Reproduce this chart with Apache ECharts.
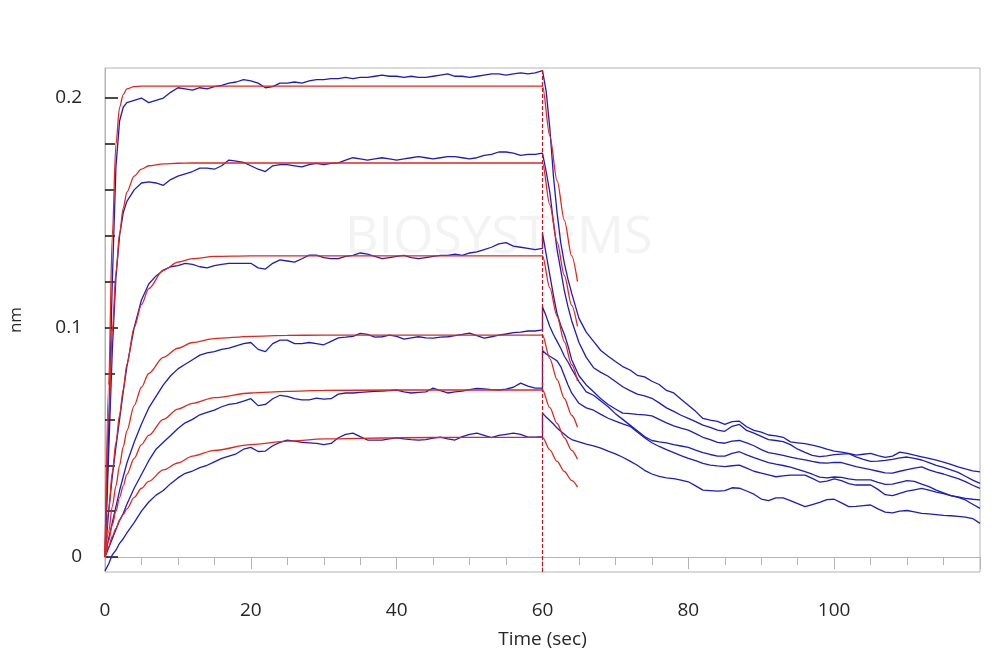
<!DOCTYPE html>
<html><head><meta charset="utf-8">
<script src="https://cdn.jsdelivr.net/npm/echarts@6/dist/echarts.min.js"></script>
<style>html,body{margin:0;padding:0;background:#fff}#c{width:1000px;height:669px}</style>
</head><body><div id="c"></div>
<script>
// ---------- data ----------
const xTickLabels = [0, 20, 40, 60, 80, 100];
const yLabelValues = [0, 0.1, 0.2];
const yMinorTickValues = [0.02, 0.04, 0.06, 0.08, 0.12, 0.14, 0.16, 0.18];
const stepTimes = [60];

// measured (blue) association phase
const assocTime = [0,0.5,1,1.5,2,2.5,3,4,5,6,7,8,9,10,11,12,13,14,15,16,17,18,19,20,21,22,23,24,25,26,27,28,29,30,31,32,33,34,35,36,37,38,39,40,41,42,43,44,45,46,47,48,49,50,51,52,53,54,55,56,57,58,59,60];
const blueAssoc1 = [0.000,0.055,0.120,0.170,0.190,0.196,0.198,0.199,0.200,0.198,0.199,0.200,0.2025,0.2045,0.204,0.2035,0.2045,0.204,0.205,0.2055,0.2065,0.207,0.208,0.2075,0.2065,0.2045,0.205,0.2065,0.2065,0.207,0.2065,0.2075,0.208,0.208,0.2085,0.2085,0.209,0.2085,0.209,0.209,0.2095,0.210,0.2095,0.2095,0.209,0.2095,0.209,0.209,0.2095,0.210,0.2105,0.2095,0.2095,0.209,0.2095,0.210,0.2105,0.2105,0.210,0.2105,0.211,0.2105,0.211,0.212];
const blueAssoc2 = [0.000,0.045,0.090,0.122,0.140,0.150,0.155,0.160,0.163,0.1635,0.163,0.162,0.1645,0.166,0.167,0.168,0.1695,0.1695,0.169,0.1705,0.173,0.1725,0.172,0.1705,0.169,0.168,0.1705,0.171,0.171,0.1705,0.170,0.171,0.1715,0.171,0.1715,0.1718,0.173,0.174,0.1735,0.173,0.1735,0.174,0.1735,0.173,0.1735,0.174,0.1745,0.174,0.1735,0.174,0.1745,0.1745,0.174,0.1735,0.174,0.175,0.1755,0.1765,0.1765,0.176,0.175,0.1755,0.1755,0.176];
const blueAssoc3 = [0.000,0.020,0.035,0.048,0.060,0.072,0.083,0.100,0.112,0.119,0.1225,0.125,0.1265,0.127,0.128,0.1275,0.1265,0.126,0.127,0.1275,0.128,0.128,0.128,0.128,0.126,0.1255,0.128,0.1295,0.129,0.1285,0.130,0.1316,0.1316,0.1305,0.130,0.130,0.131,0.1315,0.1325,0.132,0.131,0.130,0.1305,0.131,0.1315,0.1305,0.130,0.1305,0.131,0.1315,0.1315,0.132,0.1315,0.1325,0.133,0.134,0.135,0.1365,0.137,0.1355,0.135,0.1345,0.134,0.1345];
const blueAssoc4 = [0.000,0.008,0.015,0.022,0.029,0.035,0.041,0.050,0.058,0.065,0.070,0.075,0.079,0.082,0.084,0.086,0.088,0.089,0.0895,0.0905,0.091,0.092,0.093,0.0935,0.0905,0.0895,0.093,0.0945,0.0945,0.093,0.093,0.0935,0.093,0.0925,0.094,0.0955,0.0958,0.0962,0.0975,0.097,0.0958,0.096,0.0967,0.0962,0.095,0.0955,0.096,0.0955,0.0954,0.0958,0.096,0.0965,0.097,0.0976,0.0965,0.0954,0.096,0.0967,0.0972,0.0978,0.098,0.0985,0.0985,0.099];
const blueAssoc5 = [0.000,0.004,0.008,0.012,0.016,0.019,0.023,0.030,0.036,0.042,0.047,0.050,0.053,0.056,0.0585,0.060,0.062,0.063,0.064,0.0655,0.0665,0.067,0.068,0.069,0.066,0.0665,0.069,0.0705,0.070,0.069,0.0685,0.0685,0.0693,0.0688,0.069,0.071,0.0715,0.0715,0.0718,0.072,0.0722,0.0723,0.0725,0.0728,0.072,0.0715,0.0718,0.072,0.0736,0.0725,0.0715,0.072,0.0723,0.073,0.0735,0.0733,0.073,0.0728,0.0732,0.074,0.0758,0.0745,0.0736,0.0736];
const blueAssoc6 = [-0.006,-0.003,0.001,0.003,0.006,0.008,0.0105,0.015,0.020,0.024,0.027,0.029,0.032,0.0345,0.0365,0.0375,0.039,0.040,0.0415,0.043,0.044,0.045,0.047,0.0478,0.046,0.0462,0.0485,0.050,0.051,0.0505,0.050,0.0498,0.0495,0.049,0.0495,0.052,0.0535,0.054,0.0525,0.051,0.051,0.051,0.0515,0.052,0.0515,0.0512,0.051,0.0512,0.0518,0.0523,0.0515,0.051,0.0525,0.0535,0.054,0.053,0.052,0.053,0.0535,0.054,0.0535,0.0523,0.0523,0.0525];

// measured (blue) dissociation phase
const dissocTime = [60,60.5,61,61.5,62,62.5,63,63.5,64,65,66,67,68,69,70,71,72,73,74,75,76,77,78,79,80,81,82,83,84,85,86,87,88,89,90,91,92,93,94,95,96,97,98,99,100,101,102,103,104,105,106,107,108,109,110,111,112,113,114,115,116,117,118,119,120];
const blueDissoc1 = [0.212,0.203,0.187,0.166,0.150,0.137,0.128,0.121,0.115,0.104,0.098,0.094,0.090,0.0875,0.0852,0.083,0.0815,0.0792,0.0785,0.0766,0.0752,0.0726,0.0715,0.0688,0.0662,0.0635,0.0604,0.0597,0.0591,0.0578,0.0590,0.0592,0.0568,0.0552,0.0544,0.0532,0.0528,0.0522,0.0502,0.0498,0.0494,0.0488,0.0480,0.0470,0.0462,0.0457,0.0452,0.0444,0.0448,0.0452,0.0442,0.0434,0.0440,0.0457,0.0452,0.0444,0.0437,0.0430,0.0422,0.0414,0.0404,0.0393,0.0384,0.0376,0.0371];
const blueDissoc2 = [0.176,0.168,0.159,0.146,0.134,0.125,0.116,0.109,0.103,0.0935,0.087,0.0825,0.0805,0.0788,0.0765,0.0742,0.0725,0.071,0.0702,0.0692,0.0672,0.065,0.0635,0.0618,0.0604,0.0590,0.0575,0.0565,0.0553,0.0548,0.0570,0.0578,0.0552,0.0540,0.0526,0.0512,0.0508,0.0503,0.0490,0.0470,0.0456,0.0443,0.0438,0.0441,0.0446,0.0449,0.0451,0.0437,0.0426,0.0417,0.0418,0.0421,0.0426,0.0432,0.0436,0.0430,0.0423,0.0412,0.0400,0.0391,0.0380,0.0369,0.0352,0.0335,0.0321];
const blueDissoc3 = [0.141,0.132,0.123,0.114,0.106,0.101,0.097,0.092,0.086,0.079,0.075,0.072,0.069,0.0665,0.0645,0.0627,0.0625,0.0622,0.062,0.0615,0.060,0.0585,0.0572,0.0562,0.0553,0.0538,0.0522,0.0512,0.0500,0.0496,0.0505,0.0508,0.0498,0.0485,0.0468,0.0455,0.0450,0.0443,0.0436,0.0429,0.0424,0.0417,0.0411,0.0409,0.0413,0.0412,0.0403,0.0394,0.0388,0.0381,0.0374,0.0367,0.0366,0.0374,0.0381,0.0388,0.0393,0.0380,0.0370,0.0362,0.0352,0.0342,0.0329,0.0313,0.0299];
const blueDissoc4 = [0.109,0.105,0.1005,0.097,0.094,0.091,0.0875,0.085,0.082,0.0765,0.072,0.0705,0.068,0.0655,0.0625,0.060,0.0575,0.055,0.0525,0.0508,0.0502,0.0498,0.049,0.0484,0.0478,0.0466,0.0455,0.0447,0.0440,0.0440,0.0452,0.0459,0.0445,0.0433,0.0422,0.0412,0.0405,0.0399,0.0392,0.0382,0.0372,0.0361,0.0348,0.0345,0.0349,0.0347,0.0341,0.0336,0.0336,0.0336,0.0326,0.0317,0.0318,0.0326,0.0333,0.0330,0.0318,0.0307,0.0292,0.0280,0.0268,0.0262,0.0256,0.0252,0.0249];
const blueDissoc5 = [0.090,0.0885,0.0875,0.0865,0.0855,0.083,0.079,0.075,0.0715,0.067,0.065,0.064,0.0622,0.0605,0.0592,0.058,0.057,0.0545,0.052,0.0498,0.0482,0.0468,0.0455,0.0442,0.0430,0.0420,0.0408,0.0401,0.0397,0.0394,0.0398,0.0401,0.0388,0.0374,0.0366,0.0358,0.0350,0.0354,0.0357,0.0357,0.0357,0.0343,0.0327,0.0331,0.0341,0.0333,0.0320,0.0314,0.0314,0.0314,0.0295,0.0272,0.0268,0.0278,0.0287,0.0293,0.0299,0.0292,0.0283,0.0276,0.0268,0.0260,0.0249,0.0230,0.0212];
const blueDissoc6 = [0.0627,0.061,0.0595,0.058,0.0562,0.0548,0.0535,0.0522,0.0512,0.0502,0.0492,0.0485,0.0475,0.0462,0.045,0.0435,0.0418,0.040,0.0378,0.0362,0.0352,0.0345,0.0342,0.0335,0.0328,0.0310,0.0292,0.0290,0.0287,0.0290,0.0302,0.0300,0.0288,0.0274,0.0253,0.0246,0.0258,0.0258,0.0246,0.0233,0.0220,0.0229,0.0238,0.0250,0.0252,0.0236,0.0220,0.0221,0.0224,0.0227,0.0210,0.0196,0.0193,0.0200,0.0203,0.0197,0.0190,0.0188,0.0185,0.0182,0.0180,0.0177,0.0174,0.0168,0.0147];

// fitted (red) curves
const fitAssocTime = [0,0.5,1,1.5,2,2.5,3,4,5,6,8,10,12,15,20,25,30,40,50,60];
const fitAssoc1 = [0,0.075,0.140,0.180,0.196,0.2015,0.204,0.205,0.2052,0.2052,0.2052,0.2052,0.2052,0.2052,0.2052,0.2052,0.2052,0.2052,0.2052,0.2052];
const fitAssoc2 = [0,0.060,0.098,0.124,0.141,0.152,0.159,0.166,0.169,0.1705,0.1713,0.1716,0.1717,0.1717,0.1717,0.1717,0.1717,0.1717,0.1717,0.1717];
const fitAssoc3 = [0,0.020,0.037,0.050,0.062,0.073,0.084,0.100,0.110,0.117,0.125,0.1285,0.130,0.131,0.1312,0.1312,0.1312,0.1312,0.1312,0.1312];
const fitAssoc4 = [0,0.011,0.022,0.031,0.040,0.048,0.055,0.066,0.074,0.080,0.087,0.091,0.0935,0.0952,0.0962,0.0966,0.0967,0.0967,0.0967,0.0967];
const fitAssoc5 = [0,0.007,0.014,0.020,0.026,0.031,0.036,0.043,0.049,0.053,0.060,0.0645,0.067,0.0695,0.0715,0.0722,0.0726,0.0728,0.0728,0.0728];
const fitAssoc6 = [0,0.0045,0.009,0.0125,0.016,0.0185,0.021,0.026,0.030,0.033,0.038,0.041,0.044,0.0465,0.049,0.0505,0.0515,0.052,0.0522,0.0522];
const fitDissocTime = [60,61,62,63,64,64.8];
const fitDissoc1 = [0.2052,0.1835,0.164,0.1467,0.1312,0.120];
const fitDissoc2 = [0.1717,0.1535,0.1372,0.1227,0.1097,0.1005];
const fitDissoc3 = [0.1312,0.1173,0.1049,0.0938,0.0838,0.0768];
const fitDissoc4 = [0.0967,0.0865,0.0773,0.0691,0.0618,0.0566];
const fitDissoc5 = [0.0728,0.0651,0.0582,0.052,0.0465,0.0426];
const fitDissoc6 = [0.0522,0.0467,0.0417,0.0373,0.0334,0.0305];

// ---------- build ----------
const blueA = [blueAssoc1,blueAssoc2,blueAssoc3,blueAssoc4,blueAssoc5,blueAssoc6];
const blueD = [blueDissoc1,blueDissoc2,blueDissoc3,blueDissoc4,blueDissoc5,blueDissoc6];
const redA = [fitAssoc1,fitAssoc2,fitAssoc3,fitAssoc4,fitAssoc5,fitAssoc6];
const redD = [fitDissoc1,fitDissoc2,fitDissoc3,fitDissoc4,fitDissoc5,fitDissoc6];

const BLUE = '#1c1cc4', RED = '#e3261c', TXT = '#262626', GRID = '#b4b4b4';
const FONT = '"Open Sans", "Noto Sans", sans-serif';
const series = [];
blueA.forEach((a, i) => {
  const d = assocTime.map((t, j) => [t, a[j]]).concat(dissocTime.map((t, j) => [t, blueD[i][j]]));
  series.push({type:'line', data:d, symbol:'none', z:2, lineStyle:{color:BLUE, width:1.3}});
});
redA.forEach((a, i) => {
  const d = fitAssocTime.map((t, j) => [t, a[j]]).concat(fitDissocTime.slice(1).map((t, j) => [t, redD[i][j + 1]]));
  const s = {type:'line', data:d, symbol:'none', z:3, smooth:0.3, smoothMonotone:'x', lineStyle:{color:RED, width:1.3}};
  if (i === 0) {
    s.markLine = {symbol:'none', silent:true, animation:false, label:{show:false},
      lineStyle:{color:'#c8141e', type:[4,2], width:1.2},
      data: stepTimes.map(t => ({xAxis:t}))};
  }
  series.push(s);
});

const chart = echarts.init(document.getElementById('c'), null, {renderer:'canvas'});
chart.setOption({
  animation:false,
  backgroundColor:'#fff',
  graphic:[{type:'text', left:345, top:212, z:0, silent:true,
    style:{text:'BIOSYSTEMS', fill:'#f3f3f3', font:'400 52px "Open Sans", sans-serif'}}],
  grid:{left:105, right:20, top:68, bottom:97, show:true, borderColor:GRID, borderWidth:1, backgroundColor:'transparent'},
  xAxis:{type:'value', min:0, max:120, interval:20,
    axisLine:{show:true, lineStyle:{color:GRID}},
    axisTick:{show:true, length:12, lineStyle:{color:GRID}},
    minorTick:{show:true, splitNumber:4, length:8, lineStyle:{color:GRID}},
    splitLine:{show:false}, minorSplitLine:{show:false},
    axisLabel:{customValues:xTickLabels, fontSize:19, color:TXT, margin:29, fontFamily:FONT},
    name:'Time (sec)', nameLocation:'middle', nameGap:58,
    nameTextStyle:{fontSize:19, color:TXT, fontFamily:FONT}},
  yAxis:[
    {type:'value', min:-0.0065, max:0.2131, position:'left',
      axisLine:{show:true, lineStyle:{color:GRID}},
      axisTick:{show:true, inside:true, length:13, customValues:yLabelValues, lineStyle:{color:'#111', width:1.5}},
      axisLabel:{customValues:yLabelValues, formatter:v => String(v), fontSize:19, color:TXT, margin:23, fontFamily:FONT},
      splitLine:{show:false},
      name:'nm', nameLocation:'middle', nameGap:80, nameRotate:90,
      nameTextStyle:{fontSize:17, color:TXT, fontFamily:FONT}},
    {type:'value', min:-0.0065, max:0.2131, position:'left', offset:0,
      axisLine:{show:false},
      axisTick:{show:true, inside:true, length:10, customValues:yMinorTickValues, lineStyle:{color:'#111', width:1.5}},
      axisLabel:{show:false}, splitLine:{show:false}}
  ],
  series: series
});
</script>
</body></html>
